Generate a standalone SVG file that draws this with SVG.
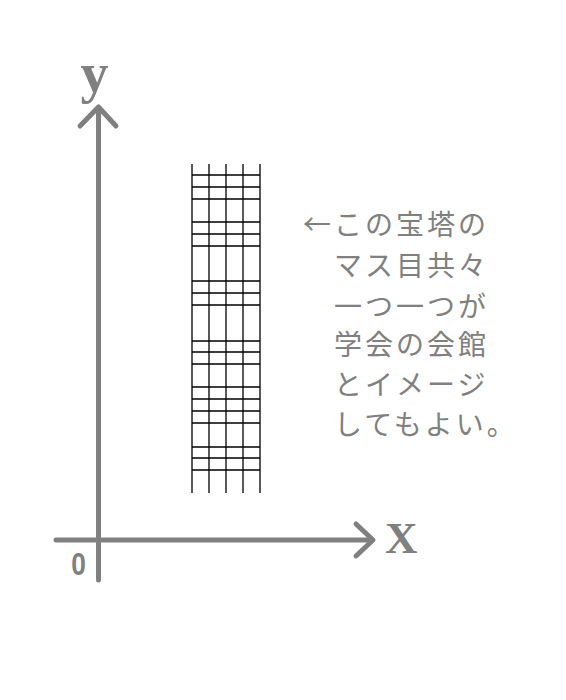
<svg xmlns="http://www.w3.org/2000/svg" width="566" height="700" viewBox="0 0 566 700">
<style>
.ax{stroke:#808080;stroke-width:5;fill:none;stroke-linecap:round;stroke-linejoin:round}
.g{stroke:#000;stroke-width:1.3;fill:none}
.lbl{fill:#808080;font-family:"Liberation Serif",serif;font-weight:bold}
.jp{fill:#808080;font-family:"Noto Sans CJK JP",sans-serif;font-size:28px;letter-spacing:3px}
</style>
<rect width="566" height="700" fill="#fff"/>
<g id="axes">
<line class="ax" x1="98.5" y1="108" x2="98.5" y2="580"/>
<polyline class="ax" points="80,126 98.5,107 116,126"/>
<line class="ax" x1="56" y1="540" x2="372" y2="540"/>
<polyline class="ax" points="356,524 373,540 356,556"/>
</g>
<g id="labels">
<text class="lbl" x="94.5" y="92" font-size="56" text-anchor="middle">y</text>
<text class="lbl" x="385" y="553" font-size="45">X</text>
<text x="78.5" y="575" font-size="31" font-weight="bold" text-anchor="middle" fill="#808080" font-family="Liberation Sans,sans-serif" transform="translate(78.5 0) scale(0.85 1) translate(-78.5 0)">0</text>
</g>
<g id="pagoda">
<path class="g" d="M192,164V493M209,164V493M226,164V493M243,164V493M260,164V493"/>
<path class="g" d="M192,175H260M192,187H260M192,199H260M192,222H260M192,234H260M192,246H260M192,281H260M192,293H260M192,305H260M192,341H260M192,352H260M192,364H260M192,387H260M192,399H260M192,411H260M192,423H260M192,447H260M192,458H260M192,470H260"/>
</g>
<g id="note">
<text class="jp" x="303" y="235">←この宝塔の</text>
<text class="jp" x="334" y="276">マス目共々</text>
<text class="jp" x="334" y="317">一つ一つが</text>
<text class="jp" x="334" y="355">学会の会館</text>
<text class="jp" x="334" y="395">とイメージ</text>
<text class="jp" x="334" y="435">してもよい。</text>
</g>
</svg>
